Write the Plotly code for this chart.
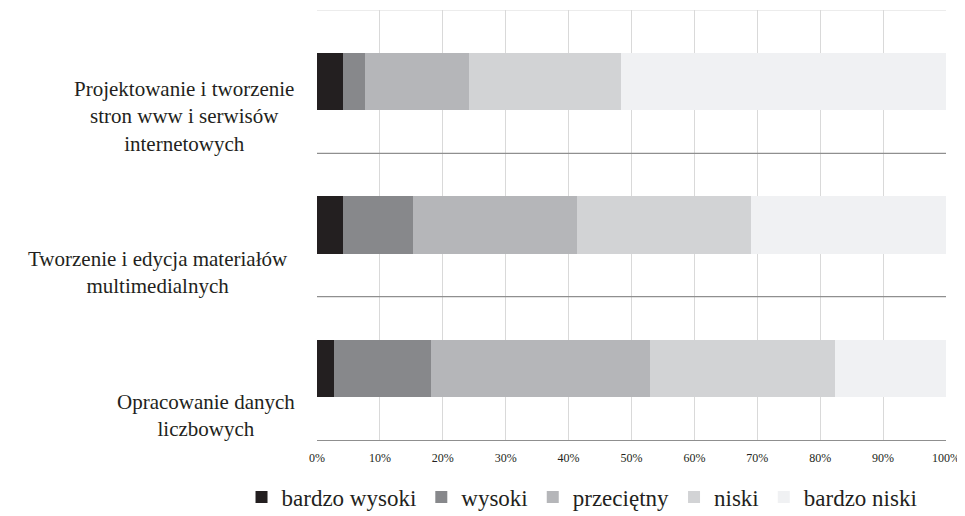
import plotly.graph_objects as go

categories = [
    "Projektowanie i tworzenie<br>stron www i serwisów<br>internetowych",
    "Tworzenie i edycja materiałów<br>multimedialnych",
    "Opracowanie danych<br>liczbowych",
]
cat_keys = ["A", "B", "C"]

series_names = ["bardzo wysoki", "wysoki", "przeciętny", "niski", "bardzo niski"]
bardzo_wysoki = [4.1, 4.1, 2.7]
wysoki = [3.5, 11.1, 15.4]
przecietny = [16.6, 26.2, 34.8]
niski = [24.2, 27.6, 29.4]
bardzo_niski = [51.6, 31.0, 17.7]
series_values = [bardzo_wysoki, wysoki, przecietny, niski, bardzo_niski]
colors = ["#231f20", "#87888b", "#b5b6b9", "#d2d3d5", "#f0f1f3"]

tick_vals = [0, 10, 20, 30, 40, 50, 60, 70, 80, 90, 100]
tick_text = [f"{v}%" for v in tick_vals]

FONT = "Liberation Serif"
TXT = "#231f20"

fig = go.Figure()
for name, vals, col in zip(series_names, series_values, colors):
    fig.add_trace(go.Bar(
        y=cat_keys, x=vals, name=name, orientation="h",
        marker=dict(color=col, line=dict(width=0)),
        width=0.40,
    ))

# divider lines between categories
for yv in [0.5, 1.5]:
    fig.add_shape(type="line", xref="paper", yref="y", x0=0, x1=1, y0=yv, y1=yv,
                  line=dict(color="#8f8f8f", width=1.2), layer="above")
fig.add_shape(type="line", xref="paper", yref="y", x0=0, x1=1, y0=-0.5, y1=-0.5,
              line=dict(color="#d9d9d9", width=1), layer="below")

label_xshift = [-21, -27, -20]
label_yshift = [-35, -47, -47]
for key, lab, xs, ys in zip(cat_keys, categories, label_xshift, label_yshift):
    fig.add_annotation(x=0, xref="paper", y=key, yref="y", text=lab,
                       showarrow=False, xanchor="right", yanchor="middle",
                       align="center", xshift=xs, yshift=ys,
                       font=dict(family=FONT, size=21, color=TXT))

fig.update_layout(
    width=957, height=508,
    margin=dict(l=309, r=19, t=2, b=76, autoexpand=False),
    barmode="stack",
    bargap=0.6,
    paper_bgcolor="white", plot_bgcolor="white",
    font=dict(family=FONT, color=TXT),
    showlegend=True,
    legend=dict(orientation="h", xref="paper", x=-0.12, xanchor="left",
                y=-0.1326, yanchor="middle",
                traceorder="normal", font=dict(family=FONT, size=23, color=TXT),
                itemwidth=30, tracegroupgap=0, bgcolor="rgba(0,0,0,0)"),
    xaxis=dict(range=[0, 100], tickvals=tick_vals, ticktext=tick_text,
               showgrid=True, gridcolor="#d9d9d9", gridwidth=1,
               zeroline=False, showline=True, linecolor="#8f8f8f", linewidth=1.2,
               ticks="", ticklabelstandoff=6,
               tickfont=dict(family=FONT, size=12, color=TXT)),
    yaxis=dict(categoryorder="array", categoryarray=cat_keys,
               range=[2.5, -0.5], showticklabels=False, showgrid=False,
               zeroline=False, showline=False, ticks=""),
)

fig.write_html("out.html")
